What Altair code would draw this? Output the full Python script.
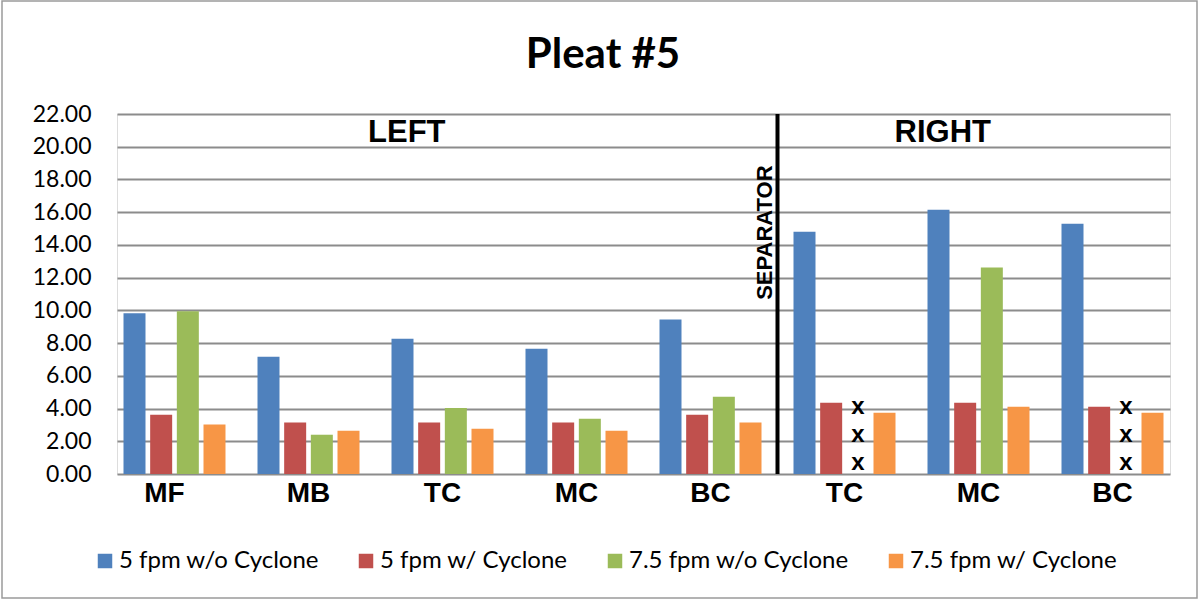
import altair as alt
import pandas as pd

categories = ["MF", "MB", "TC", "MC", "BC", "TC2", "MC2", "BC2"]
series = ["5 fpm w/o Cyclone", "5 fpm w/ Cyclone", "7.5 fpm w/o Cyclone", "7.5 fpm w/ Cyclone"]
v_5_wo = [9.82, 7.17, 8.27, 7.66, 9.44, 14.81, 16.15, 15.30]
v_5_w = [3.62, 3.14, 3.14, 3.14, 3.62, 4.36, 4.36, 4.11]
v_75_wo = [9.94, 2.40, 4.03, 3.38, 4.72, None, 12.62, None]
v_75_w = [3.02, 2.64, 2.76, 2.64, 3.14, 3.75, 4.11, 3.75]
colors = ["#4f81bd", "#c0504d", "#9bbb59", "#f79646"]
y_ticks = [0, 2, 4, 6, 8, 10, 12, 14, 16, 18, 20, 22]

# missing-value markers ("x") for the 7.5 fpm w/o Cyclone slot
missing_cats = ["TC2", "TC2", "TC2", "BC2", "BC2", "BC2"]
missing_y = [3.66, 1.94, 0.25, 3.66, 1.94, 0.25]

# section labels
section_text = ["LEFT", "RIGHT"]
section_cat = ["TC", "MC2"]
section_y = [20.85, 20.85]

title_text = "Pleat #5"

rows = []
for s, vals in zip(series, [v_5_wo, v_5_w, v_75_wo, v_75_w]):
    for c, v in zip(categories, vals):
        if v is not None:
            rows.append({"cat": c, "series": s, "value": v})
df = pd.DataFrame(rows)

df_x = pd.DataFrame({"cat": missing_cats, "series": series[2], "value": missing_y, "t": "x"})
df_sec = pd.DataFrame({"cat": section_cat, "value": section_y, "t": section_text})
df_sep = pd.DataFrame({"cat": ["TC2"], "y1": [22], "y0": [0], "ym": [14.75], "t": ["SEPARATOR"]})
df_title = pd.DataFrame({"t": [title_text]})

W, H = 1053, 360
xscale = alt.Scale(domain=categories, paddingInner=0.2388, paddingOuter=0.0485)
offscale = alt.Scale(domain=series, paddingInner=0.175, paddingOuter=0)
yscale = alt.Scale(domain=[0, 22], nice=False)

bars = alt.Chart(df).mark_bar().encode(
    x=alt.X("cat:N", scale=xscale, axis=alt.Axis(
        title=None, labelExpr="replace(datum.label, '2', '')", labelFont="Liberation Sans",
        labelFontWeight="bold", labelFontSize=28, labelColor="black", labelAngle=0,
        ticks=False, domain=False, labelPadding=5,
        labelOffset=alt.ExprRef(expr="datum.value === 'MF' ? -10 : 0"))),
    xOffset=alt.XOffset("series:N", scale=offscale),
    y=alt.Y("value:Q", scale=yscale, axis=alt.Axis(
        title=None, values=y_ticks, tickCount=len(y_ticks), format=".2f", labelFont="Lato",
        labelFontSize=23, labelColor="black", ticks=False, domain=False, labelPadding=26,
        labelOverlap=False, gridColor="#8c8c8c", gridWidth=2)),
    color=alt.Color("series:N", scale=alt.Scale(domain=series, range=colors), legend=alt.Legend(
        title=None, orient="none", direction="horizontal", legendX=-24, legendY=435,
        symbolType="square", symbolSize=210, symbolStrokeWidth=0, labelFont="Lato",
        labelFontSize=24, labelColor="black", labelOffset=2, columnPadding=35, labelLimit=400)),
)

xmarks = alt.Chart(df_x).mark_text(
    font="Liberation Sans", fontWeight="bold", fontSize=24, baseline="alphabetic", color="black"
).encode(
    x=alt.X("cat:N", scale=xscale),
    xOffset=alt.XOffset("series:N", scale=offscale),
    y=alt.Y("value:Q", scale=yscale),
    text="t:N",
)

sections = alt.Chart(df_sec).mark_text(
    font="Liberation Sans", fontWeight="bold", fontSize=31, baseline="middle", align="center", color="black"
).encode(
    x=alt.X("cat:N", scale=xscale, bandPosition=0.15),
    y=alt.Y("value:Q", scale=yscale),
    text="t:N",
)

sep_line = alt.Chart(df_sep).mark_rule(color="black", strokeWidth=4, xOffset=-16).encode(
    x=alt.X("cat:N", scale=xscale, bandPosition=0),
    y=alt.Y("y1:Q", scale=yscale),
    y2="y0:Q",
)

sep_text = alt.Chart(df_sep).mark_text(
    font="Liberation Sans", fontWeight="bold", fontSize=22, angle=270, baseline="alphabetic",
    align="center", xOffset=-21, color="black"
).encode(
    x=alt.X("cat:N", scale=xscale, bandPosition=0),
    y=alt.Y("ym:Q", scale=yscale),
    text="t:N",
)

title = alt.Chart(df_title).mark_text(
    font="Lato", fontWeight="bold", fontSize=42, baseline="middle", align="center", color="black"
).encode(x=alt.value(486), y=alt.value(-59), text="t:N")

frame = alt.Chart(df_sep).mark_rect(fill=None, stroke="#9a9a9a", strokeWidth=1.5).encode(
    x=alt.value(-115), x2=alt.value(W + 27), y=alt.value(-113), y2=alt.value(H + 124)
)

chart = alt.layer(frame, bars, xmarks, sections, sep_line, sep_text, title).properties(
    width=W, height=H,
    autosize=alt.AutoSizeParams(type="none"),
    padding={"left": 117, "top": 114, "right": 30, "bottom": 128},
).configure_view(stroke="#bfbfbf", strokeWidth=3).configure(background="white")

chart.save("out.html", embed_options={"renderer": "svg", "actions": False})
